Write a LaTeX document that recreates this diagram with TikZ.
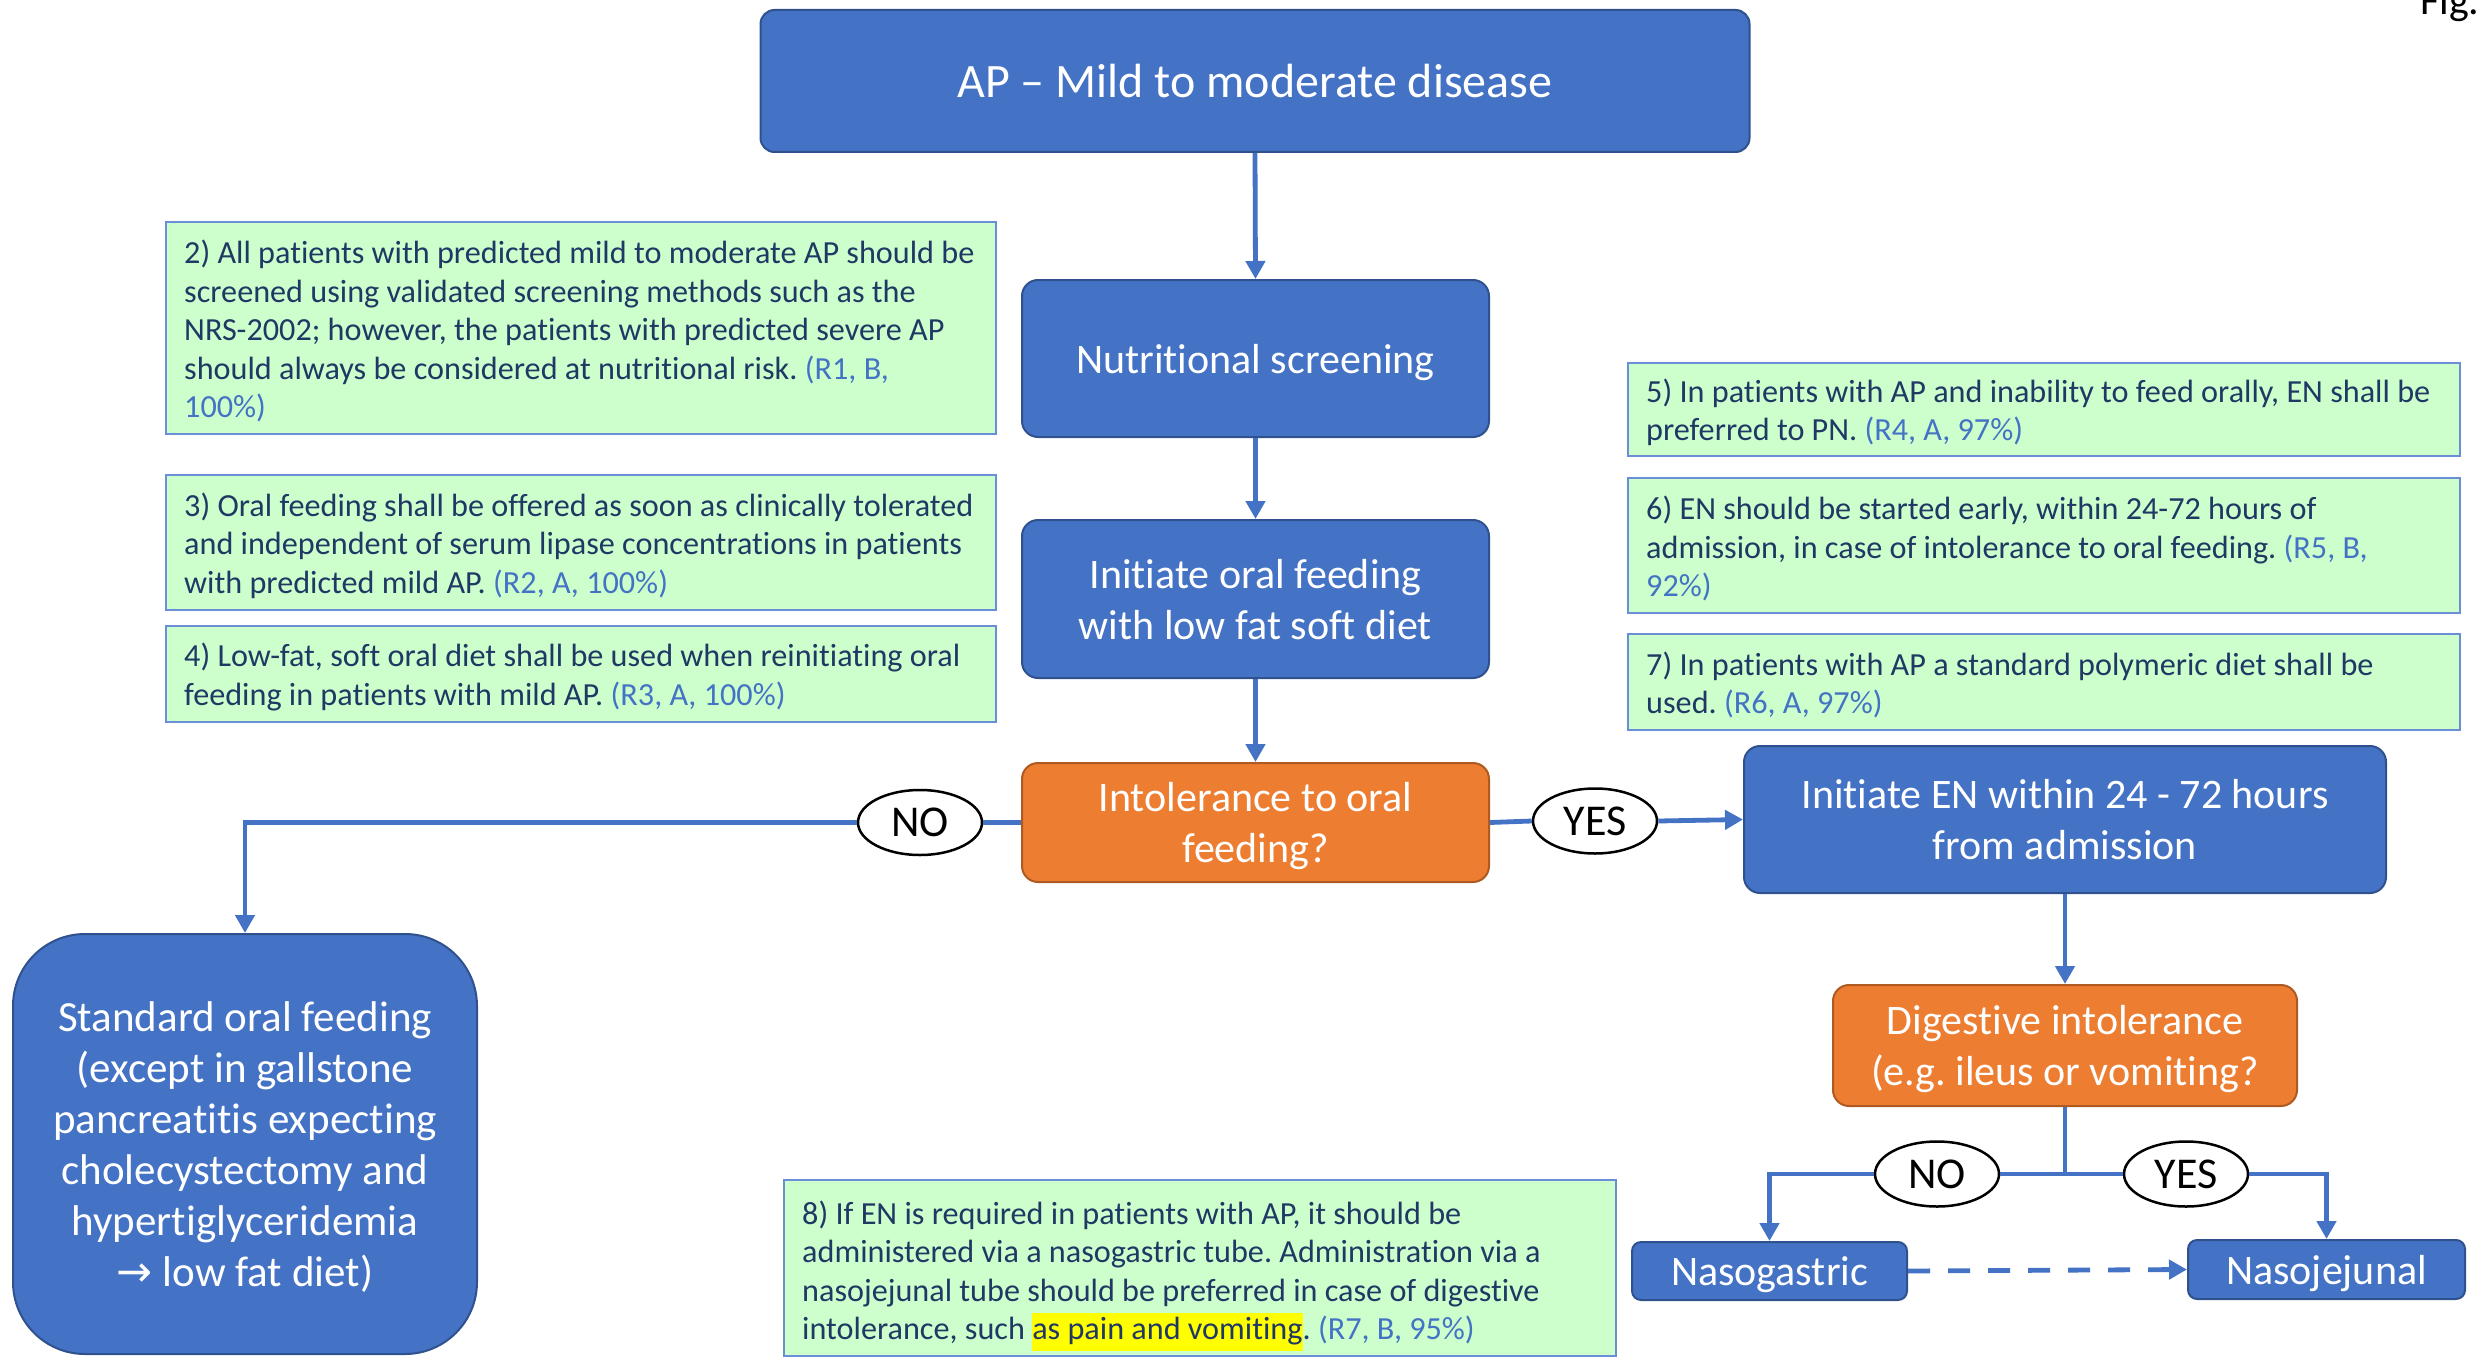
\documentclass[tikz,border=0pt]{standalone}
\usepackage{fontspec}
\setmainfont{Carlito}[Ligatures=NoCommon, RawFeature={-calt}]
\newfontfamily\arrowfont{DejaVu Sans}
\usetikzlibrary{arrows.meta,shapes.geometric}
\frenchspacing
\hyphenpenalty=10000

\definecolor{boxblue}{HTML}{4472C4}
\definecolor{boxedge}{HTML}{2F528F}
\definecolor{boxorange}{HTML}{ED7D31}
\definecolor{orangeedge}{HTML}{AE5A21}
\definecolor{notefill}{HTML}{CCFFCC}
\definecolor{noteedge}{HTML}{6A8FD6}
\definecolor{notetext}{HTML}{203864}
\definecolor{reftext}{HTML}{4472C4}
\definecolor{linkblue}{HTML}{4472C4}
\definecolor{marker}{HTML}{FFFF00}

\newcommand{\rec}[1]{\textcolor{reftext}{#1}}
\newcommand{\marked}[1]{{\setlength{\fboxsep}{0pt}\colorbox{marker}{\strut #1}}}

\tikzset{
  flow/.style={draw=boxedge, line width=2pt, fill=boxblue, text=white,
    font=\fontsize{42}{51}\selectfont, align=center, inner sep=0pt,
    rounded corners=16pt, text depth=0pt},
  decision/.style={flow, fill=boxorange, draw=orangeedge},
  notebox/.style={draw=noteedge, line width=2pt, fill=notefill,
    inner sep=0pt, minimum width=830pt},
  notetxt/.style={text=notetext, font=\fontsize{32.2}{38.5}\selectfont,
    align=left, inner sep=0pt, anchor=west, yshift=-3pt},
  answer/.style={ellipse, draw=black, line width=2.5pt, fill=white,
    inner sep=0pt, minimum width=124pt, minimum height=65pt,
    font=\fontsize{44}{50}\selectfont},
  conn/.style={draw=linkblue, line width=4.8pt},
  arr/.style={-{Triangle[length=18pt,width=19pt]}},
}

\begin{document}
\begin{tikzpicture}[x=1pt, y=-1pt]
\useasboundingbox (0,0) rectangle (2484,1362);

% main flow boxes
\node[flow, rounded corners=14pt, minimum width=989pt, minimum height=142pt,
  font=\fontsize{48}{56}\selectfont] (ap) at (1255,81) {AP – Mild to moderate disease};
\node[flow, minimum width=467pt, minimum height=157pt] (nut) at (1255.5,358.5) {Nutritional screening};
\node[flow, minimum width=467pt, minimum height=158pt] (oral) at (1255.5,599) {Initiate oral feeding\\with low fat soft diet};
\node[decision, minimum width=467pt, minimum height=119pt] (intol) at (1255.5,822.5) {Intolerance to oral\\feeding?};
\node[flow, minimum width=642pt, minimum height=147pt] (en) at (2065,819.5) {Initiate EN within 24 - 72 hours\\from admission};
\node[decision, minimum width=464pt, minimum height=121pt] (dig) at (2065,1045.5) {Digestive intolerance\\(e.g. ileus or vomiting?};
\node[flow, rounded corners=9pt, minimum width=275pt, minimum height=58pt] (ng) at (1769.5,1271) {Nasogastric};
\node[flow, rounded corners=9pt, minimum width=277pt, minimum height=59pt] (nj) at (2326.5,1269.5) {Nasojejunal};
\node[flow, rounded corners=72pt, minimum width=464pt, minimum height=420pt,
  font=\fontsize{43}{51}\selectfont] (std) at (245,1144)
  {Standard oral feeding\\(except in gallstone\\pancreatitis expecting\\cholecystectomy and\\hypertiglyceridemia\\{\arrowfont →} low fat diet)};

% recommendation notes: box, then its text set from the left edge
\node[notebox, minimum height=212pt] (r2) at (581,328) {};
\node[notetxt] (r2t) at ([xshift=19pt]r2.west) {2) All patients with predicted mild to moderate AP should be\\screened using validated screening methods such as the\\NRS-2002; however, the patients with predicted severe AP\\should always be considered at nutritional risk. \rec{(R1, B,}\\\rec{100\%)}};
\node[notebox, minimum height=135pt] (r3) at (581,542.5) {};
\node[notetxt] (r3t) at ([xshift=19pt]r3.west) {3) Oral feeding shall be offered as soon as clinically tolerated\\and independent of serum lipase concentrations in patients\\with predicted mild AP. \rec{(R2, A, 100\%)}};
\node[notebox, minimum height=96pt] (r4) at (581,674) {};
\node[notetxt] (r4t) at ([xshift=19pt]r4.west) {4) Low-fat, soft oral diet shall be used when reinitiating oral\\feeding in patients with mild AP. \rec{(R3, A, 100\%)}};
\node[notebox, minimum height=93pt, minimum width=832pt] (r5) at (2044,409.5) {};
\node[notetxt] (r5t) at ([xshift=19pt]r5.west) {5) In patients with AP and inability to feed orally, EN shall be\\preferred to PN. \rec{(R4, A, 97\%)}};
\node[notebox, minimum height=135pt, minimum width=832pt] (r6) at (2044,545.5) {};
\node[notetxt] (r6t) at ([xshift=19pt]r6.west) {6) EN should be started early, within 24-72 hours of\\admission, in case of intolerance to oral feeding. \rec{(R5, B,}\\\rec{92\%)}};
\node[notebox, minimum height=96pt, minimum width=832pt] (r7) at (2044,682) {};
\node[notetxt] (r7t) at ([xshift=19pt]r7.west) {7) In patients with AP a standard polymeric diet shall be\\used. \rec{(R6, A, 97\%)}};
\node[notebox, minimum height=176pt, minimum width=832pt] (r8) at (1200,1268) {};
\node[notetxt, yshift=-5pt] (r8t) at ([xshift=19pt]r8.west) {8) If EN is required in patients with AP, it should be\\administered via a nasogastric tube. Administration via a\\nasojejunal tube should be preferred in case of digestive\\intolerance, such \marked{as pain and vomiting}. \rec{(R7, B, 95\%)}};

% figure tag in the corner
\node[anchor=base west, inner sep=0pt, font=\fontsize{42}{50}\selectfont] (tag) at (2420,15) {Fig.};

% answer labels
\node[answer] (no1) at (920,822.5) {NO};
\node[answer] (yes1) at (1595,821) {YES};
\node[answer] (no2) at (1937,1174) {NO};
\node[answer] (yes2) at (2186,1174) {YES};
\coordinate (split) at (2065,1174);

% connectors
\draw[conn, arr] (ap.south) -- (nut.north);
\draw[conn, arr] (nut.south) -- (oral.north);
\draw[conn, arr] (oral.south) -- (intol.north);
\draw[conn] (intol.west) -- (no1.east);
\draw[conn, arr] (no1.west) -| (std.north);
\draw[conn] (intol.east) -- (yes1.west);
\draw[conn, arr] (yes1.east) -- (en.west);
\draw[conn, arr] (en.south) -- (dig.north);
\draw[conn] (dig.south) -- (split);
\draw[conn] (no2.east) -- (split) -- (yes2.west);
\draw[conn, arr] (no2.west) -| (ng.north);
\draw[conn, arr] (yes2.east) -| (nj.north);
\draw[conn, arr, dash pattern=on 22pt off 18pt] (ng.east) -- (nj.west);
\end{tikzpicture}
\end{document}
